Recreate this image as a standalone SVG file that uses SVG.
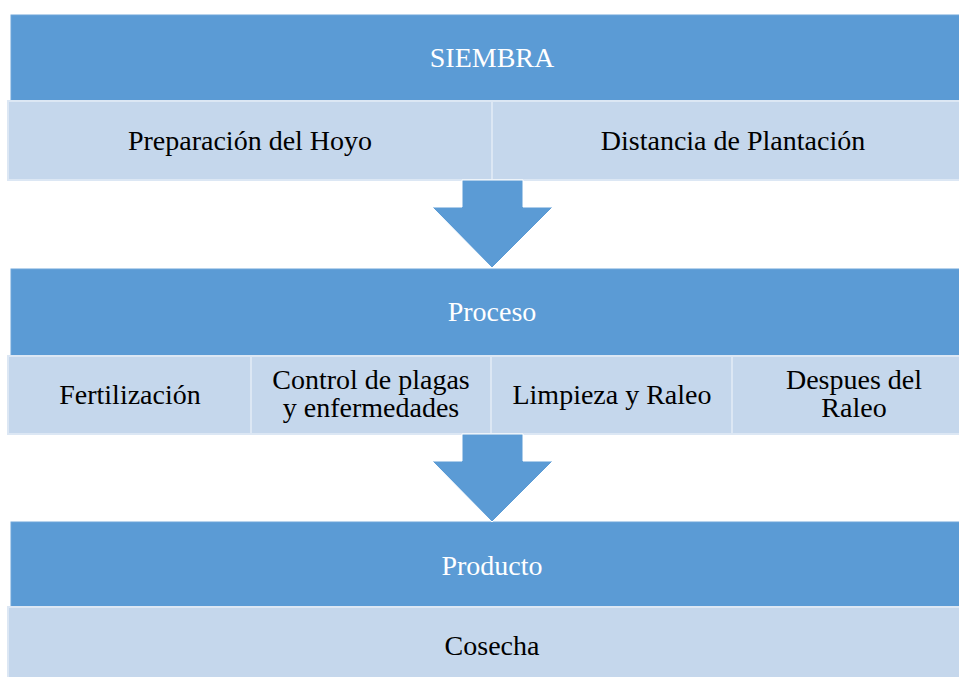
<svg xmlns="http://www.w3.org/2000/svg" width="959" height="677" viewBox="0 0 959 677">
<style>
.hd{fill:#5B9BD5;stroke:#6FA6DA;stroke-width:1}
.cell{fill:#C5D7EC;stroke:#DCE7F4;stroke-width:2}
.arrow{fill:#5B9BD5;stroke:#ffffff;stroke-width:1}
.t{font-family:"Liberation Serif","Times New Roman","DejaVu Serif",serif;font-size:28px;text-anchor:middle}
.w{fill:#ffffff}
.b{fill:#000000}
</style>
<rect width="959" height="677" fill="#ffffff"/>
<g id="siembra">
<rect class="hd" x="11" y="15" width="966" height="86"/>
<text class="t w" x="492" y="67">SIEMBRA</text>
</g>
<g id="preparacion">
<rect class="cell" x="8" y="101" width="484" height="79"/>
<text class="t b" x="250" y="150">Preparación del Hoyo</text>
</g>
<g id="distancia">
<rect class="cell" x="492" y="101" width="484" height="79"/>
<text class="t b" x="733" y="150">Distancia de Plantación</text>
</g>
<g id="proceso">
<rect class="hd" x="11" y="269" width="966" height="87"/>
<text class="t w" x="492" y="321">Proceso</text>
</g>
<g id="fertilizacion">
<rect class="cell" x="8" y="356" width="243" height="78"/>
<text class="t b" x="130" y="404">Fertilización</text>
</g>
<g id="control">
<rect class="cell" x="251" y="356" width="240" height="78"/>
<text class="t b" x="371" y="389">Control de plagas</text>
<text class="t b" x="371" y="417">y enfermedades</text>
</g>
<g id="limpieza">
<rect class="cell" x="491" y="356" width="241" height="78"/>
<text class="t b" x="612" y="404">Limpieza y Raleo</text>
</g>
<g id="despues">
<rect class="cell" x="732" y="356" width="244" height="78"/>
<text class="t b" x="854" y="389">Despues del</text>
<text class="t b" x="854" y="417">Raleo</text>
</g>
<g id="producto">
<rect class="hd" x="11" y="522" width="966" height="85"/>
<text class="t w" x="492" y="575">Producto</text>
</g>
<g id="cosecha">
<rect class="cell" x="8" y="607" width="968" height="80"/>
<text class="t b" x="492" y="655">Cosecha</text>
</g>
<g id="connectors">
<polygon class="arrow" points="462,180 523,180 523,207 553,207 492,268 432,207 462,207"/>
<polygon class="arrow" points="462,434 523,434 523,461 553,461 492,522 432,461 462,461"/>
</g>
</svg>
